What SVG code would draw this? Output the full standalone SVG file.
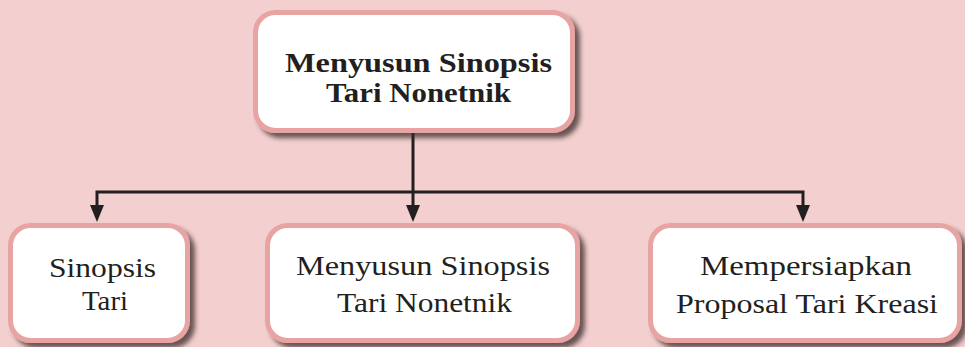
<svg xmlns="http://www.w3.org/2000/svg" width="965" height="347" viewBox="0 0 965 347">
<style>
.box{fill:#ffffff;stroke:#e8a3a3;stroke-width:5;filter:url(#sh)}
.t{font-family:"Liberation Serif","Times New Roman",serif;font-size:28px;fill:#231f20;text-anchor:middle}
.b{font-weight:bold}
.ln{fill:none;stroke:#231f20;stroke-width:3}
</style>
<defs>
<filter id="sh" x="-10%" y="-20%" width="125%" height="150%">
<feDropShadow dx="5" dy="5" stdDeviation="2.5" flood-color="#3b2b2b" flood-opacity="0.75"/>
</filter>
</defs>
<rect width="965" height="347" fill="#f3d0cf"/>
<g id="connectors">
<line class="ln" x1="413" y1="133" x2="413" y2="206"/>
<polyline class="ln" points="97,206 97,192 803,192 803,206"/>
<path d="M406,205 L420,205 L413,222 Z" fill="#231f20"/>
<path d="M90,205 L104,205 L97,222 Z" fill="#231f20"/>
<path d="M796,205 L810,205 L803,222 Z" fill="#231f20"/>
</g>
<g id="top">
<rect class="box" x="255.5" y="12.5" width="317" height="118" rx="20"/>
<text class="t b" x="418.5" y="72" textLength="267" lengthAdjust="spacingAndGlyphs">Menyusun Sinopsis</text>
<text class="t b" x="418.5" y="102" textLength="185" lengthAdjust="spacingAndGlyphs">Tari Nonetnik</text>
</g>
<g id="n1">
<rect class="box" x="10.5" y="225.5" width="177" height="115" rx="20"/>
<text class="t" x="102.5" y="277" textLength="107" lengthAdjust="spacingAndGlyphs">Sinopsis</text>
<text class="t" x="105" y="310" textLength="46" lengthAdjust="spacingAndGlyphs">Tari</text>
</g>
<g id="n2">
<rect class="box" x="267.5" y="225.5" width="310" height="115" rx="20"/>
<text class="t" x="423" y="275" textLength="254" lengthAdjust="spacingAndGlyphs">Menyusun Sinopsis</text>
<text class="t" x="424.5" y="312" textLength="175" lengthAdjust="spacingAndGlyphs">Tari Nonetnik</text>
</g>
<g id="n3">
<rect class="box" x="650.5" y="225.5" width="309" height="115" rx="20"/>
<text class="t" x="806" y="275" textLength="212" lengthAdjust="spacingAndGlyphs">Mempersiapkan</text>
<text class="t" x="807" y="313" textLength="262" lengthAdjust="spacingAndGlyphs">Proposal Tari Kreasi</text>
</g>
</svg>
